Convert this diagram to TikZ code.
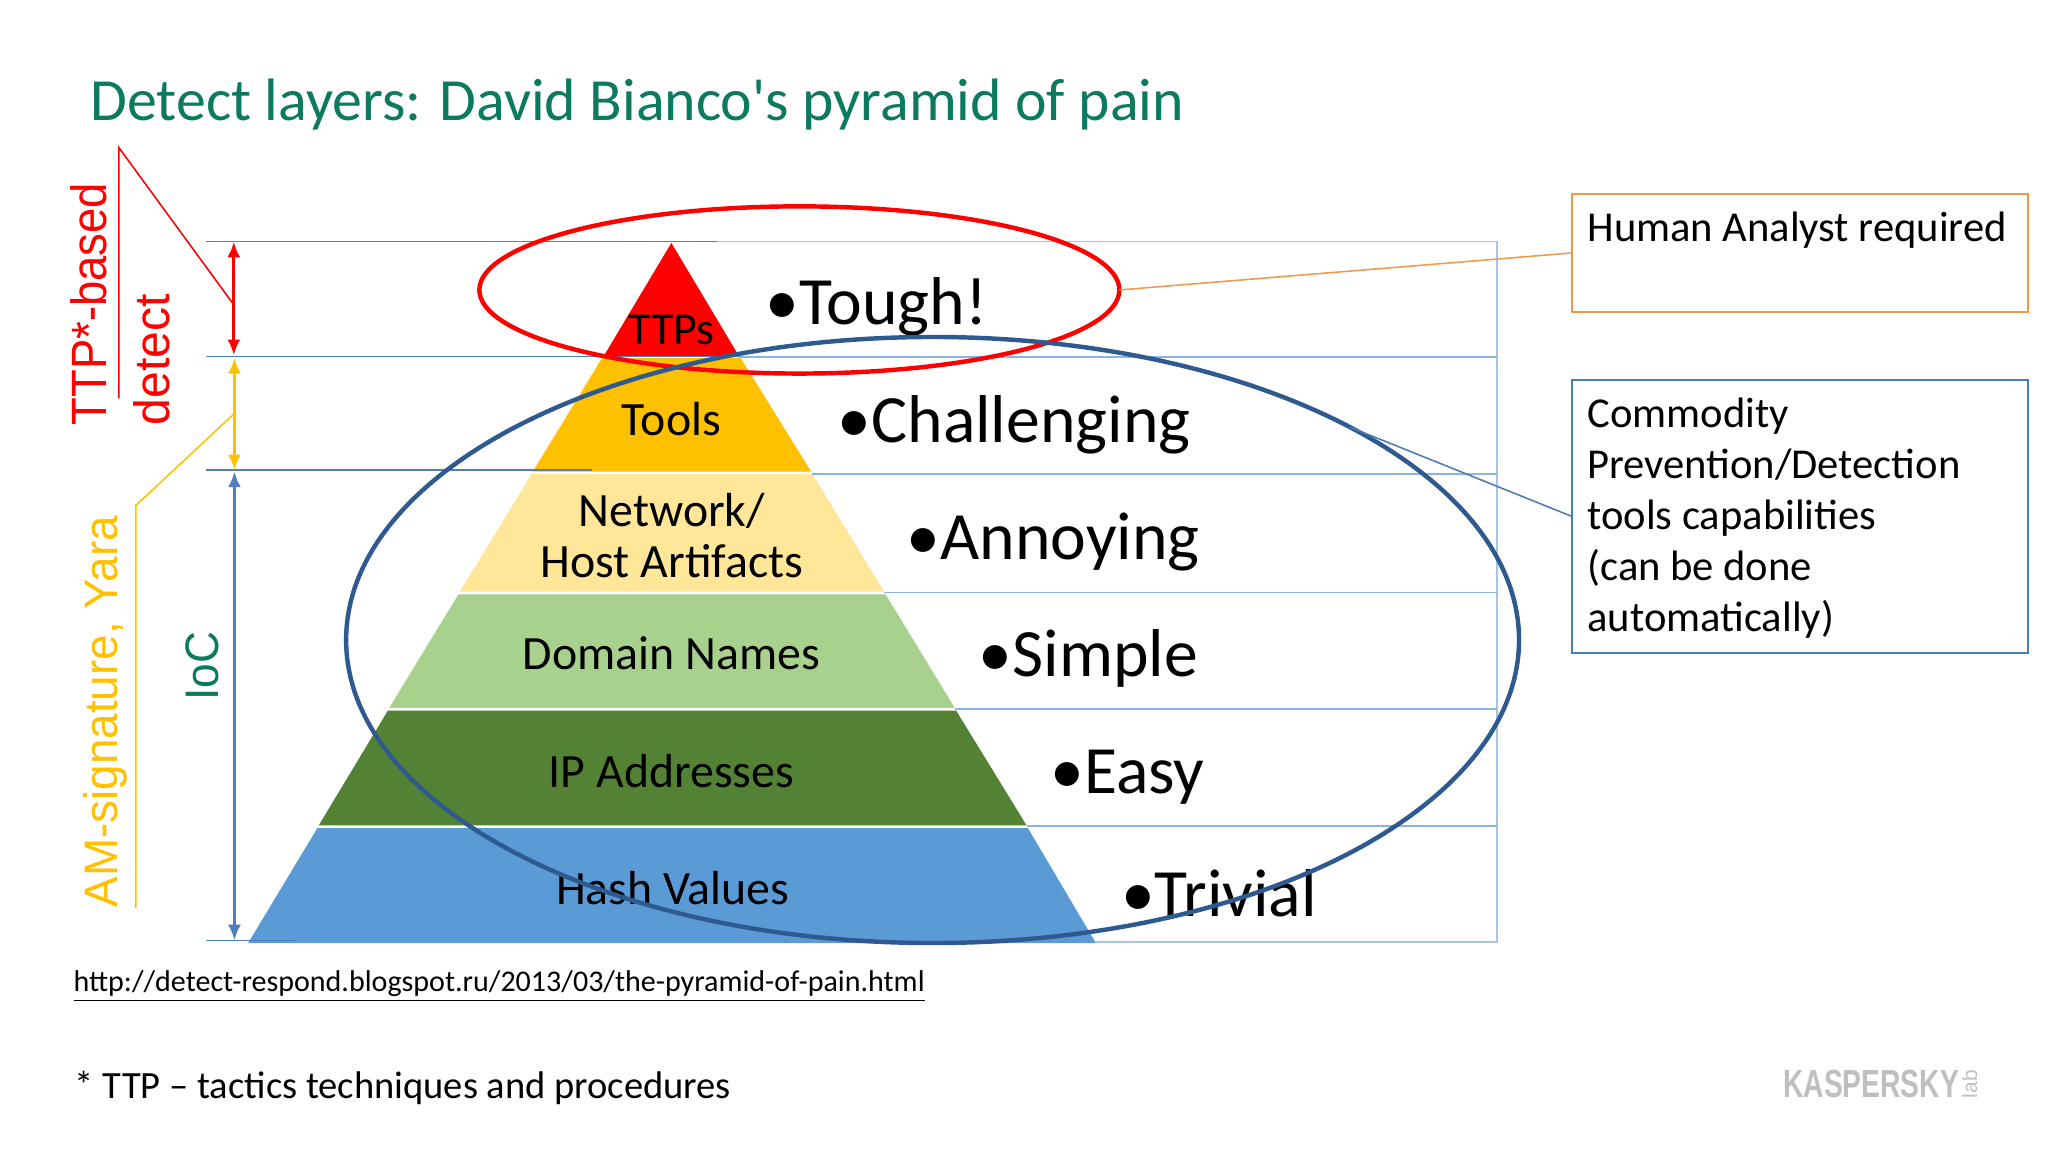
\documentclass[tikz,border=0pt]{standalone}
\usepackage{fontspec}
\setmainfont{Carlito}
\newfontfamily\arialf{Liberation Sans}
\newfontfamily\titlef{Carlito}
\usetikzlibrary{arrows.meta,shapes.geometric}
\definecolor{teal1}{HTML}{0B7A5E}
\definecolor{ambr}{HTML}{FFC000}
\definecolor{dkblue}{HTML}{4F7FBD}
\definecolor{ltblue}{HTML}{A5C5E6}
\definecolor{midblue}{HTML}{8DB4E0}
\definecolor{ellblue}{HTML}{2F5A8F}
\definecolor{orng}{HTML}{ED9A4C}
\definecolor{boxblue}{HTML}{4C7DB5}
\newcommand{\fsz}[1]{\fontsize{#1pt}{#1pt}\selectfont}
\tikzset{
  lvl/.style={font=\fsz{18.3},inner sep=0pt,text=black},
  big/.style={font=\fsz{25.9},inner sep=0pt,anchor=west,text=black},
  rot/.style={rotate=90,inner sep=0pt},
  gline/.style={line width=0.6pt,dkblue},
  lline/.style={line width=0.6pt,ltblue},
  tip/.style={{Latex[length=6pt,width=5pt]}-{Latex[length=6pt,width=5pt]}},
  callout/.style={draw,line width=0.7pt,inner sep=0pt,anchor=north west,minimum width=174.5pt,text=black},
  boxtext/.style={anchor=base west,inner sep=0pt,font=\fsz{16.3},text=black},
}
\begin{document}
\begin{tikzpicture}[x=0.5pt,y=-0.5pt]
\useasboundingbox (0,0) rectangle (1568,882);
\fill[white] (0,0) rectangle (1568,882);
% title
\node[anchor=base west,inner sep=0pt,text=teal1,font=\titlef\fsz{22.9}] (title) at (69,92) {Detect layers: David Bianco's pyramid of pain};
% pyramid
\fill[red] (514,186) -- (566,273) -- (462,273) -- cycle;
\fill[ambr] (461,274) -- (567,274) -- (621,361) -- (408,361) -- cycle;
\fill[ambr!40!white] (407,363) -- (622,363) -- (677,453) -- (352,453) -- cycle;
\fill[fill={rgb,255:red,169;green,209;blue,142}] (351,455) -- (678,455) -- (731,542) -- (298,542) -- cycle;
\fill[fill={rgb,255:red,84;green,130;blue,53}] (297,544) -- (732,544) -- (786,632) -- (244,632) -- cycle;
\fill[fill={rgb,255:red,91;green,155;blue,213}] (243,634) -- (787,634) -- (839,722) -- (190,722) -- cycle;
% guide lines
\coordinate (gR) at (1146,185);
\draw[lline] (549,185) -- (gR) -- (1146,721) -- (838,721);
\draw[lline,midblue] (566,273.5) -- (1146,273.5);
\draw[lline,midblue,line width=0.9pt] (622,363) -- (1146,363);
\draw[lline,midblue] (677,453.5) -- (1146,453.5);
\draw[lline,midblue,line width=0.9pt] (731,543) -- (1146,543);
\draw[lline,midblue] (786,632.5) -- (1146,632.5);
\draw[gline] (158,185) -- (549,185);
\draw[gline] (158,273) -- (566,273);
\draw[gline] (158,360) -- (453,360);
\draw[gline] (158,720) -- (227,720);
% arrows
\coordinate (a0) at (179,185);
\coordinate (a1) at (179,272);
\coordinate (a2) at (179.5,274);
\coordinate (a3) at (179.5,360);
\coordinate (a4) at (179.5,361);
\coordinate (a5) at (179.5,720);
\draw[tip,red,line width=1.2pt] (a0) -- (a1);
\draw[tip,ambr,line width=1.2pt] (a2) -- (a3);
\draw[tip,dkblue,line width=1.1pt] (a4) -- (a5);
% left labels
\node[rot,text=red,font=\arialf\fsz{19},anchor=west] (ttp) at (68,326) {\scalebox{0.916}[1]{TTP*-based}};
\node[rot,text=red,font=\arialf\fsz{19},anchor=west] (det) at (116,326) {\scalebox{0.97}[1]{detect}};
\node[rot,text=ambr,font=\arialf\fsz{18},anchor=west] (am) at (81,695) {\scalebox{0.974}[1]{AM-signature, Yara}};
\node[rot,text=teal1,font=\arialf\fsz{18}] (ioc) at (155,510) {\scalebox{0.94}[1]{IoC}};
\coordinate (r1) at (91,305);
\coordinate (r2) at (91,113);
\coordinate (r3) at (178,232);
\draw[red,line width=0.6pt] (r1) -- (r2) -- (r3);
\coordinate (y1) at (104,695);
\coordinate (y2) at (104,387);
\coordinate (y3) at (179,317);
\draw[ambr,line width=0.6pt] (y1) -- (y2) -- (y3);
% pyramid labels
\node[lvl,font=\fsz{17.5}] (l1) at (514,253) {TTPs};
\node[lvl] (l2) at (514,321) {Tools};
\node[lvl,align=center,font=\fontsize{18.3pt}{19.3pt}\selectfont] (l3) at (514.5,410) {Network/\\Host Artifacts};
\node[lvl] (l4) at (514,500) {Domain Names};
\node[lvl] (l5) at (514,590) {IP Addresses};
\node[lvl] (l6) at (515,680) {Hash Values};
% difficulty labels
\node[big] (d1) at (586,235) {•Tough!};
\node[big] (d2) at (641,325) {•Challenging};
\node[big] (d3) at (694,415) {•Annoying};
\node[big] (d4) at (749,504) {•Simple};
\node[big] (d5) at (804,595) {•Easy};
\node[big] (d6) at (858,684) {•Trivial};
% ellipses
\node[ellipse,draw=red,line width=1.7pt,minimum width=245pt,minimum height=64pt,inner sep=0pt,outer sep=0pt] (eR) at (612,222) {};
\node[ellipse,draw=ellblue,line width=1.7pt,minimum width=449pt,minimum height=232pt,inner sep=0pt,outer sep=0pt] (eB) at (714,490) {};
% callouts
\node[callout,draw=orng,minimum height=45pt] (hum) at (1203,148) {};
\node[boxtext] (humt) at (1215,185) {Human Analyst required};
\node[callout,draw=boxblue,minimum height=104.5pt] (com) at (1203,290) {};
\node[boxtext] (c1) at (1215,327) {Commodity};
\node[boxtext] (c2) at (1215,366) {Prevention/Detection};
\node[boxtext] (c3) at (1215,405.5) {tools capabilities};
\node[boxtext] (c4) at (1215,444.5) {(can be done};
\node[boxtext] (c5) at (1215,483.5) {automatically)};
\draw[orng,line width=0.6pt] (eR.east) -- (hum.west);
\draw[boxblue,line width=0.6pt] (eB.27) -- (com.west);
% footer
\node[anchor=base west,inner sep=0pt,font=\fsz{11.5},text=black] (url) at (56,759) {\underline{http://detect-respond.blogspot.ru/2013/03/the-pyramid-of-pain.html}};
\node[anchor=base west,inner sep=0pt,font=\fsz{14.75},text=black] (foot) at (57,841) {* TTP – tactics techniques and procedures};
% logo
\node[anchor=base west,inner sep=0pt,font=\arialf\bfseries\fsz{15},text=black!25] (logo) at (1365,840) {\scalebox{0.72}[1]{KASPERSKY}};
\node[rot,inner sep=0pt,font=\arialf\fsz{8},text=black!25] (lab) at (1508,830) {lab};
\end{tikzpicture}
\end{document}
